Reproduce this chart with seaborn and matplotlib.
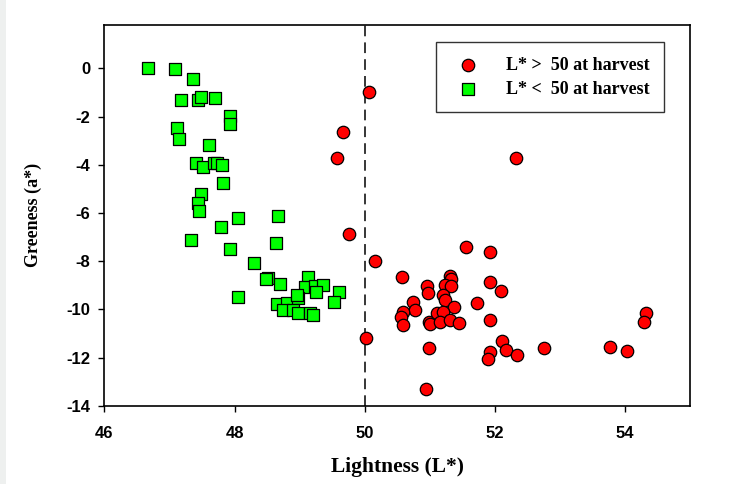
import pandas as pd
import matplotlib
matplotlib.use("Agg")
import matplotlib.pyplot as plt
from matplotlib.patches import Rectangle
import seaborn as sns

# Red circles: L* > 50 at harvest
red_x = [50.06, 49.66, 49.58, 52.32, 49.76, 50.16, 51.55, 51.93, 50.58, 50.95,
         50.98, 51.31, 51.33, 51.24, 51.32, 51.21, 51.23, 51.92, 52.09, 50.75,
         50.77, 50.59, 50.56, 50.59, 51.37, 51.73, 51.93, 50.99, 51.00, 51.11,
         51.21, 51.15, 51.31, 51.45, 50.02, 50.99, 52.11, 51.93, 51.89, 52.17,
         52.34, 52.75, 50.94, 53.77, 54.03, 54.32, 54.30]
red_y = [-0.97, -2.66, -3.73, -3.72, -6.88, -8.00, -7.42, -7.61, -8.65, -9.03,
         -9.34, -8.62, -8.75, -8.99, -9.03, -9.42, -9.60, -8.88, -9.24, -9.71,
         -10.03, -10.10, -10.33, -10.65, -9.90, -9.72, -10.44, -10.51, -10.60, -10.17,
         -10.10, -10.51, -10.44, -10.58, -11.20, -11.62, -11.30, -11.76, -12.06, -11.69,
         -11.90, -11.60, -13.31, -11.55, -11.72, -10.17, -10.51]

# Green squares: L* < 50 at harvest
green_x = [46.67, 47.08, 47.36, 47.17, 47.43, 47.48, 47.70, 47.93, 47.93, 47.12,
           47.15, 47.60, 47.41, 47.51, 47.69, 47.73, 47.81, 47.82, 47.49, 47.44,
           47.45, 48.06, 48.67, 47.79, 47.33, 48.64, 47.93, 48.30, 48.06, 48.52,
           48.49, 48.70, 49.13, 49.08, 49.24, 49.36, 49.25, 49.61, 49.53, 48.65,
           48.80, 48.98, 48.96, 48.75, 48.90, 48.98, 49.16, 49.21]
green_y = [0.00, -0.04, -0.46, -1.33, -1.33, -1.18, -1.23, -1.98, -2.32, -2.48,
           -2.93, -3.18, -3.94, -4.08, -3.94, -3.92, -4.03, -4.75, -5.22, -5.58,
           -5.91, -6.20, -6.13, -6.60, -7.12, -7.26, -7.51, -8.09, -9.48, -8.69,
           -8.76, -8.96, -8.67, -9.09, -9.02, -8.99, -9.27, -9.27, -9.71, -9.78,
           -9.73, -9.52, -9.40, -10.03, -10.03, -10.17, -10.17, -10.24]

labels = ["L* >  50 at harvest", "L* <  50 at harvest"]
x_ticks = [46, 48, 50, 52, 54]
y_ticks = [0, -2, -4, -6, -8, -10, -12, -14]

red = pd.DataFrame({"L": red_x, "a": red_y})
green = pd.DataFrame({"L": green_x, "a": green_y})

sns.set_style("ticks")
plt.rcParams["font.family"] = ["Liberation Sans", "DejaVu Sans"]
plt.rcParams["axes.unicode_minus"] = False
for key in ["text.color", "axes.labelcolor", "xtick.color", "ytick.color"]:
    plt.rcParams[key] = "black"

fig = plt.figure(figsize=(7.4, 4.84), dpi=100)
ax = fig.add_axes([0.1412, 0.1618, 0.7912, 0.7865])
fig.patches.append(Rectangle((0, 0), 6 / 740, 1, transform=fig.transFigure,
                             facecolor="#eef0ef", edgecolor="none", zorder=0))

sns.scatterplot(data=red, x="L", y="a", ax=ax, marker="o", s=80, color="#ff0000",
                edgecolor="black", linewidth=0.9, label=labels[0], zorder=3)
sns.scatterplot(data=green, x="L", y="a", ax=ax, marker="s", s=85, color="#00ff00",
                edgecolor="black", linewidth=0.9, label=labels[1], zorder=3)

ax.axvline(50, color="black", linestyle=(0, (7, 4)), linewidth=1.1, zorder=2)

ax.set_xlim(46, 55)
ax.set_ylim(-14, 1.8)
ax.set_xticks(x_ticks)
ax.set_yticks(y_ticks)
ax.tick_params(direction="out", length=4.3, width=1, labelsize=12)
ax.tick_params(axis="x", pad=10)
ax.tick_params(axis="y", pad=6)
for t in ax.get_xticklabels() + ax.get_yticklabels():
    t.set_fontweight("bold")
for sp in ax.spines.values():
    sp.set_visible(True)
    sp.set_linewidth(1.2)
    sp.set_color("black")

ax.set_xlabel("Lightness (L*)", fontsize=15.5, fontweight="bold",
              family="Liberation Serif", labelpad=12)
ax.set_ylabel("Greeness (a*)", fontsize=13, fontweight="bold",
              family="Liberation Serif")
ax.yaxis.set_label_coords(-0.107, 0.5)

leg = ax.legend(loc="upper left", bbox_to_anchor=(0.566, 0.955), frameon=True,
                fancybox=False, edgecolor="black", borderpad=0.8,
                labelspacing=0.4, handletextpad=1.1, borderaxespad=0,
                prop={"family": "Liberation Serif", "weight": "bold", "size": 13})
leg.get_frame().set_linewidth(1.0)

fig.savefig("out.png", dpi=100)
